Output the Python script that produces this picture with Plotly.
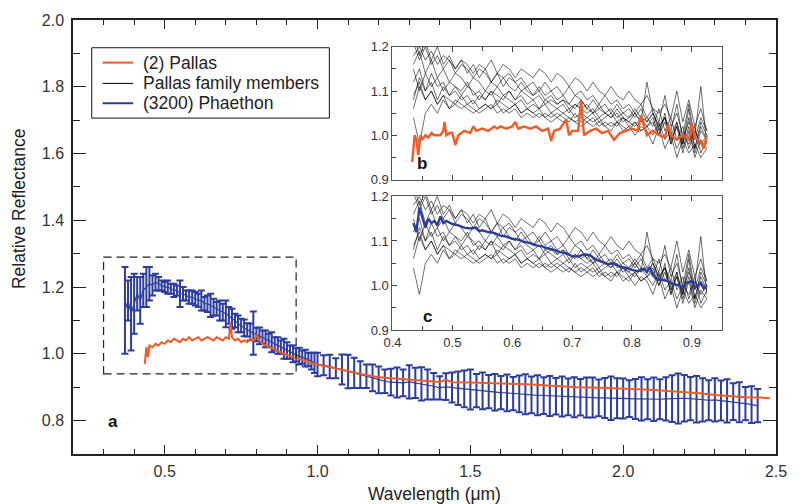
import plotly.graph_objects as go

# ---------------- data ----------------
# (3200) Phaethon, main panel (wavelength um, reflectance, 1-sigma error)
PH_WL = [0.37, 0.38, 0.39, 0.40, 0.41, 0.42, 0.43, 0.44, 0.45, 0.46,
         0.47, 0.48, 0.49, 0.50, 0.51, 0.52, 0.53, 0.54, 0.55, 0.56,
         0.57, 0.58, 0.59, 0.60, 0.61, 0.62, 0.63, 0.64, 0.65, 0.66,
         0.67, 0.68, 0.69, 0.70, 0.71, 0.72, 0.73, 0.74, 0.75, 0.76,
         0.77, 0.78, 0.79, 0.80, 0.81, 0.82, 0.83, 0.84, 0.85, 0.86,
         0.87, 0.88, 0.89, 0.90, 0.91, 0.92, 0.93, 0.94, 0.95, 0.96,
         0.97, 0.98, 0.99,
         1.00, 1.02, 1.04, 1.06, 1.08, 1.10, 1.12, 1.14, 1.16, 1.18,
         1.20, 1.22, 1.24, 1.26, 1.28, 1.30, 1.32, 1.34, 1.36, 1.38,
         1.40, 1.42, 1.44, 1.46, 1.48, 1.50, 1.52, 1.54, 1.56, 1.58,
         1.60, 1.62, 1.64, 1.66, 1.68, 1.70, 1.72, 1.74, 1.76, 1.78,
         1.80, 1.82, 1.84, 1.86, 1.88, 1.90, 1.92, 1.94, 1.96, 1.98,
         2.00, 2.02, 2.04, 2.06, 2.08, 2.10, 2.12, 2.14, 2.16, 2.18,
         2.20, 2.22, 2.24, 2.26, 2.28, 2.30, 2.32, 2.34, 2.36, 2.38,
         2.40, 2.42, 2.44]
PH_REF = [1.13, 1.16, 1.12, 1.15, 1.18, 1.16, 1.19, 1.20, 1.21, 1.205,
          1.215, 1.21, 1.205, 1.20, 1.20, 1.195, 1.19, 1.19, 1.18, 1.18,
          1.175, 1.17, 1.17, 1.165, 1.16, 1.16, 1.15, 1.15, 1.145, 1.14,
          1.135, 1.13, 1.125, 1.12, 1.115, 1.105, 1.10, 1.09, 1.085, 1.078,
          1.072, 1.066, 1.062, 1.058, 1.054, 1.05, 1.045, 1.04, 1.035, 1.03,
          1.025, 1.02, 1.015, 1.01, 1.005, 1.0, 0.997, 0.993, 0.99, 0.987,
          0.983, 0.978, 0.973,
          0.968, 0.966, 0.962, 0.957, 0.953, 0.947, 0.943, 0.938, 0.933, 0.928,
          0.922, 0.918, 0.915, 0.914, 0.913, 0.916, 0.913, 0.910, 0.908, 0.903,
          0.898, 0.902, 0.899, 0.897, 0.895, 0.893, 0.890, 0.889, 0.887, 0.885,
          0.884, 0.883, 0.881, 0.880, 0.879, 0.877, 0.876, 0.875, 0.874, 0.873,
          0.872, 0.871, 0.870, 0.870, 0.869, 0.869, 0.868, 0.868, 0.867, 0.867,
          0.866, 0.866, 0.865, 0.865, 0.864, 0.864, 0.864, 0.865, 0.866, 0.866,
          0.867, 0.866, 0.864, 0.862, 0.861, 0.862, 0.860, 0.859, 0.857, 0.855,
          0.851, 0.848, 0.845]
PH_ERR = [0.13, 0.06, 0.11, 0.09, 0.05, 0.07, 0.05, 0.06, 0.05, 0.03,
          0.025, 0.02, 0.015, 0.015, 0.02, 0.015, 0.02, 0.015, 0.04, 0.02,
          0.015, 0.02, 0.02, 0.02, 0.02, 0.03, 0.02, 0.025, 0.035, 0.025,
          0.02, 0.03, 0.025, 0.04, 0.025, 0.03, 0.02, 0.025, 0.02, 0.025,
          0.02, 0.025, 0.065, 0.02, 0.025, 0.02, 0.025, 0.02, 0.03, 0.02,
          0.025, 0.02, 0.03, 0.025, 0.02, 0.025, 0.02, 0.025, 0.02, 0.025,
          0.02, 0.025, 0.03,
          0.035, 0.03, 0.035, 0.03, 0.045, 0.05, 0.045, 0.04, 0.035, 0.04,
          0.04, 0.035, 0.04, 0.045, 0.04, 0.05, 0.045, 0.05, 0.045, 0.04,
          0.035, 0.04, 0.045, 0.05, 0.055, 0.06, 0.05, 0.055, 0.05, 0.055,
          0.05, 0.055, 0.05, 0.055, 0.06, 0.055, 0.06, 0.055, 0.06, 0.055,
          0.06, 0.055, 0.06, 0.055, 0.06, 0.06, 0.055, 0.06, 0.065, 0.06,
          0.06, 0.055, 0.06, 0.065, 0.06, 0.065, 0.06, 0.065, 0.07, 0.075,
          0.07, 0.065, 0.07, 0.065, 0.06, 0.065, 0.06, 0.065, 0.055, 0.06,
          0.05, 0.055, 0.05]

# (2) Pallas, main panel
PA_WL = [0.435, 0.44, 0.445, 0.45, 0.46, 0.47, 0.48, 0.49, 0.50, 0.51,
         0.52, 0.53, 0.54, 0.55, 0.56, 0.57, 0.58, 0.59, 0.60, 0.61,
         0.62, 0.63, 0.64, 0.65, 0.66, 0.67, 0.68, 0.69, 0.70, 0.71,
         0.715, 0.72, 0.73, 0.74, 0.75, 0.76, 0.77, 0.78, 0.79, 0.80,
         0.81, 0.82, 0.83, 0.84, 0.85, 0.86, 0.87, 0.88, 0.89, 0.90,
         0.92, 0.94, 0.96, 0.98, 1.00, 1.05, 1.10, 1.15, 1.20, 1.25,
         1.30, 1.35, 1.40, 1.42, 1.44, 1.50, 1.55, 1.60, 1.65, 1.70,
         1.75, 1.80, 1.85, 1.90, 1.95, 2.00, 2.05, 2.10, 2.15, 2.20,
         2.25, 2.30, 2.35, 2.40, 2.45, 2.48]
PA_REF = [0.97, 1.02, 0.99, 1.025, 1.02, 1.03, 1.025, 1.035, 1.03, 1.04,
          1.035, 1.045, 1.04, 1.035, 1.045, 1.04, 1.05, 1.04, 1.045, 1.05,
          1.04, 1.045, 1.05, 1.045, 1.04, 1.05, 1.045, 1.04, 1.05, 1.045,
          1.095, 1.05, 1.04, 1.045, 1.035, 1.04, 1.035, 1.045, 1.04, 1.055,
          1.04, 1.03, 1.025, 1.02, 1.018, 1.012, 1.008, 1.004, 1.0, 0.998,
          0.99, 0.985, 0.978, 0.972, 0.968, 0.958, 0.946, 0.938, 0.930, 0.926,
          0.922, 0.918, 0.916, 0.922, 0.915, 0.914, 0.913, 0.911, 0.910, 0.908,
          0.905, 0.902, 0.900, 0.899, 0.898, 0.897, 0.894, 0.892, 0.889, 0.886,
          0.882, 0.877, 0.873, 0.870, 0.869, 0.867]

# inset b: (2) Pallas
PB_WL = [0.433, 0.437, 0.44, 0.443, 0.447, 0.45, 0.455, 0.46, 0.465, 0.47,
         0.475, 0.48, 0.485, 0.487, 0.49, 0.495, 0.50, 0.505, 0.51, 0.52,
         0.53, 0.535, 0.54, 0.55, 0.56, 0.57, 0.575, 0.58, 0.59, 0.60,
         0.605, 0.61, 0.62, 0.63, 0.64, 0.65, 0.66, 0.665, 0.67, 0.68,
         0.69, 0.695, 0.70, 0.71, 0.715, 0.72, 0.73, 0.74, 0.75, 0.76,
         0.77, 0.78, 0.79, 0.80, 0.81, 0.815, 0.825, 0.835, 0.845, 0.855,
         0.86, 0.865, 0.875, 0.885, 0.895, 0.90, 0.905, 0.91, 0.915, 0.92,
         0.925]
PB_REF = [0.94, 1.0, 0.99, 0.955, 1.0, 0.99, 1.0, 0.995, 1.005, 1.0,
          1.0, 1.0, 1.01, 1.03, 1.0, 1.005, 1.005, 0.978, 1.0, 1.01,
          1.005, 1.02, 1.01, 1.015, 1.01, 1.02, 1.015, 1.02, 1.015, 1.02,
          1.03, 1.015, 1.02, 1.015, 1.02, 1.01, 1.015, 0.987, 1.01, 1.015,
          1.035, 1.0, 1.01, 1.01, 1.077, 1.0, 1.01, 1.015, 1.005, 1.01,
          0.99, 1.005, 1.01, 1.015, 1.01, 1.045, 1.0, 1.01, 1.0, 0.995,
          1.024, 1.0, 0.99, 1.0, 0.99, 1.028, 0.995, 0.99, 0.985, 0.97,
          1.0]

# inset c: (3200) Phaethon
PC_WL = [0.435, 0.44, 0.445, 0.45, 0.455, 0.46, 0.465, 0.47, 0.475, 0.48,
         0.485, 0.49, 0.50, 0.51, 0.52, 0.53, 0.54, 0.545, 0.55, 0.56,
         0.57, 0.58, 0.59, 0.60, 0.61, 0.62, 0.63, 0.64, 0.65, 0.66,
         0.67, 0.68, 0.69, 0.70, 0.71, 0.72, 0.73, 0.74, 0.75, 0.76,
         0.77, 0.78, 0.79, 0.80, 0.81, 0.82, 0.825, 0.83, 0.835, 0.84,
         0.85, 0.86, 0.87, 0.88, 0.885, 0.89, 0.90, 0.905, 0.91, 0.915,
         0.92, 0.925]
PC_REF = [1.14, 1.12, 1.175, 1.15, 1.13, 1.15, 1.14, 1.145, 1.135, 1.155,
          1.14, 1.145, 1.138, 1.135, 1.13, 1.128, 1.13, 1.122, 1.124, 1.12,
          1.118, 1.112, 1.11, 1.105, 1.103, 1.098, 1.095, 1.09, 1.088, 1.083,
          1.08, 1.075, 1.072, 1.066, 1.065, 1.07, 1.068, 1.058, 1.053, 1.048,
          1.05, 1.042, 1.04, 1.035, 1.032, 1.038, 1.03, 1.042, 1.025, 1.015,
          1.013, 1.01, 1.003, 1.0, 0.995, 1.005, 1.01, 0.995, 1.0, 1.005,
          0.993, 1.0]

# Pallas family members (insets b and c)
FAM_WL = [0.435, 0.445, 0.455, 0.465, 0.475, 0.485, 0.495, 0.505, 0.515, 0.525,
          0.535, 0.545, 0.555, 0.565, 0.575, 0.585, 0.595, 0.605, 0.615, 0.625,
          0.635, 0.645, 0.655, 0.665, 0.675, 0.685, 0.695, 0.705, 0.715, 0.725,
          0.735, 0.745, 0.755, 0.765, 0.775, 0.785, 0.795, 0.805, 0.815, 0.825,
          0.835, 0.845, 0.855, 0.865, 0.875, 0.885, 0.895, 0.905, 0.915, 0.925]
FAM_1 = [1.18, 1.20, 1.17, 1.19, 1.16, 1.18, 1.17, 1.15, 1.17, 1.16,
         1.14, 1.16, 1.15, 1.17, 1.14, 1.16, 1.15, 1.13, 1.15, 1.14,
         1.13, 1.15, 1.14, 1.12, 1.14, 1.13, 1.11, 1.13, 1.12, 1.10,
         1.12, 1.10, 1.09, 1.11, 1.09, 1.08, 1.10, 1.08, 1.07, 1.09,
         1.06, 1.05, 1.07, 1.04, 1.10, 1.03, 1.08, 1.02, 1.06, 1.01]
FAM_2 = [1.21, 1.17, 1.20, 1.16, 1.18, 1.15, 1.17, 1.14, 1.16, 1.15,
         1.13, 1.15, 1.14, 1.12, 1.14, 1.13, 1.14, 1.12, 1.13, 1.11,
         1.12, 1.10, 1.12, 1.10, 1.11, 1.09, 1.11, 1.09, 1.10, 1.08,
         1.09, 1.07, 1.09, 1.07, 1.08, 1.06, 1.07, 1.05, 1.07, 1.04,
         1.06, 1.03, 1.09, 1.02, 1.05, 1.00, 1.07, 0.99, 1.04, 1.01]
FAM_3 = [1.16, 1.19, 1.14, 1.17, 1.13, 1.15, 1.12, 1.14, 1.13, 1.11,
         1.13, 1.12, 1.10, 1.12, 1.11, 1.13, 1.11, 1.10, 1.12, 1.10,
         1.09, 1.11, 1.09, 1.10, 1.08, 1.09, 1.07, 1.09, 1.08, 1.06,
         1.08, 1.06, 1.07, 1.05, 1.07, 1.05, 1.06, 1.04, 1.06, 1.03,
         1.05, 1.02, 1.04, 0.98, 1.03, 0.97, 1.02, 0.96, 1.01, 0.99]
FAM_4 = [1.12, 1.15, 1.10, 1.14, 1.11, 1.12, 1.09, 1.11, 1.10, 1.12,
         1.09, 1.10, 1.08, 1.10, 1.09, 1.08, 1.10, 1.08, 1.09, 1.07,
         1.08, 1.06, 1.08, 1.07, 1.06, 1.07, 1.05, 1.07, 1.06, 1.05,
         1.06, 1.04, 1.05, 1.04, 1.05, 1.03, 1.04, 1.05, 1.03, 1.04,
         1.02, 1.06, 1.01, 1.04, 0.99, 1.02, 0.97, 1.01, 0.98, 1.00]
FAM_5 = [1.08, 1.13, 1.10, 1.12, 1.08, 1.11, 1.09, 1.10, 1.08, 1.09,
         1.07, 1.09, 1.08, 1.10, 1.07, 1.09, 1.08, 1.07, 1.08, 1.06,
         1.07, 1.06, 1.07, 1.05, 1.06, 1.05, 1.06, 1.04, 1.05, 1.04,
         1.05, 1.03, 1.04, 1.05, 1.03, 1.04, 1.03, 1.02, 1.04, 1.02,
         1.03, 1.00, 1.05, 0.98, 1.02, 0.96, 1.01, 0.95, 0.99, 0.97]
FAM_6 = [1.06, 1.11, 1.08, 1.10, 1.07, 1.09, 1.06, 1.08, 1.07, 1.06,
         1.05, 1.06, 1.07, 1.06, 1.08, 1.07, 1.06, 1.07, 1.05, 1.06,
         1.05, 1.06, 1.04, 1.05, 1.04, 1.05, 1.04, 1.03, 1.04, 1.03,
         1.04, 1.02, 1.03, 1.02, 1.03, 1.02, 1.01, 1.03, 1.01, 1.02,
         1.00, 1.03, 0.99, 1.01, 0.97, 1.00, 0.98, 1.02, 0.96, 0.99]
FAM_7 = [1.04, 0.98, 1.05, 1.07, 1.05, 1.08, 1.06, 1.07, 1.06, 1.07,
         1.06, 1.05, 1.06, 1.07, 1.05, 1.06, 1.05, 1.06, 1.04, 1.05,
         1.04, 1.05, 1.04, 1.03, 1.04, 1.03, 1.04, 1.03, 1.02, 1.03,
         1.02, 1.03, 1.02, 1.01, 1.03, 1.01, 1.02, 1.00, 1.02, 1.01,
         0.98, 1.02, 0.97, 1.00, 0.95, 0.99, 0.96, 0.98, 0.95, 0.97]
FAM_8 = [1.09, 1.12, 1.08, 1.10, 1.07, 1.09, 1.08, 1.07, 1.09, 1.07,
         1.08, 1.06, 1.07, 1.06, 1.07, 1.05, 1.06, 1.07, 1.05, 1.06,
         1.05, 1.04, 1.05, 1.04, 1.05, 1.04, 1.03, 1.05, 1.03, 1.04,
         1.03, 1.04, 1.02, 1.03, 1.02, 1.04, 1.02, 1.03, 1.01, 1.02,
         1.04, 1.00, 1.03, 0.99, 1.02, 0.98, 1.04, 0.97, 1.03, 1.00]
FAM_9 = [1.23, 1.18, 1.21, 1.17, 1.20, 1.16, 1.18, 1.15, 1.17, 1.14,
         1.16, 1.13, 1.15, 1.12, 1.14, 1.11, 1.13, 1.12, 1.10, 1.11,
         1.09, 1.10, 1.08, 1.09, 1.07, 1.08, 1.07, 1.06, 1.08, 1.06,
         1.05, 1.07, 1.05, 1.04, 1.06, 1.04, 1.03, 1.05, 1.03, 1.12,
         1.05, 1.01, 1.04, 1.00, 1.03, 0.98, 1.06, 0.97, 1.02, 0.99]
FAM_10 = [1.15, 1.10, 1.14, 1.11, 1.13, 1.10, 1.12, 1.11, 1.09, 1.11,
          1.10, 1.08, 1.10, 1.09, 1.11, 1.09, 1.10, 1.08, 1.10, 1.09,
          1.08, 1.09, 1.07, 1.08, 1.07, 1.08, 1.06, 1.07, 1.06, 1.07,
          1.05, 1.06, 1.05, 1.06, 1.04, 1.05, 1.04, 1.06, 1.04, 1.03,
          1.05, 1.02, 1.04, 1.01, 1.07, 0.99, 1.03, 1.00, 1.11, 0.98]
FAMILY = [FAM_1, FAM_2, FAM_3, FAM_4, FAM_5, FAM_6, FAM_7, FAM_8, FAM_9, FAM_10]

LEGEND_LABELS = ["(2) Pallas", "Pallas family members", "(3200) Phaethon"]

# ---------------- style ----------------
FONT = "Liberation Sans, Arial, Helvetica, sans-serif"
BLUE = "#2d3d9c"
ORANGE = "#f25a26"
AX = "#222222"
TXT = "#333333"

W, H = 799, 504
L, R, T, B = 73, 13, 16, 50
PW, PH = W - L - R, H - T - B


def px_x(p):
    return (p - L) / PW


def px_y(p):
    return (H - B - p) / PH


fig = go.Figure()

# main panel
fig.add_trace(go.Scatter(
    x=PH_WL, y=PH_REF, mode="lines", line=dict(color=BLUE, width=1.2),
    error_y=dict(type="data", array=PH_ERR, color=BLUE, thickness=2, width=3.5),
    showlegend=False, hoverinfo="skip"))
fig.add_trace(go.Scatter(
    x=PA_WL, y=PA_REF, mode="lines", line=dict(color=ORANGE, width=2),
    showlegend=False, hoverinfo="skip"))

# insets: family members
for line in FAMILY:
    for xa, ya in (("x2", "y2"), ("x3", "y3")):
        fig.add_trace(go.Scatter(
            x=FAM_WL, y=line, xaxis=xa, yaxis=ya, mode="lines",
            line=dict(color="rgba(0,0,0,0.72)", width=0.8),
            showlegend=False, hoverinfo="skip"))

fig.add_trace(go.Scatter(x=PB_WL, y=PB_REF, xaxis="x2", yaxis="y2", mode="lines",
                         line=dict(color=ORANGE, width=2.4), showlegend=False))
fig.add_trace(go.Scatter(x=PC_WL, y=PC_REF, xaxis="x3", yaxis="y3", mode="lines",
                         line=dict(color=BLUE, width=2.4), showlegend=False))

main_common = dict(showline=True, linecolor=AX, linewidth=1.5, mirror="allticks",
                   ticks="inside", tickcolor=AX, tickwidth=1.2, showgrid=False,
                   zeroline=False, tickfont=dict(family=FONT, size=16, color=TXT))
inset_common = dict(showline=True, linecolor="#555555", linewidth=1, mirror="allticks",
                    ticks="inside", tickcolor="#444444", tickwidth=1, ticklen=5,
                    showgrid=False, zeroline=False,
                    tickfont=dict(family=FONT, size=13, color=TXT))

bx = [px_x(397), px_x(731)]

fig.update_layout(
    width=W, height=H,
    margin=dict(l=L, r=R, t=T, b=B),
    paper_bgcolor="white", plot_bgcolor="white",
    showlegend=False,
    xaxis=dict(domain=[0, 1], range=[0.2, 2.5], tick0=0, dtick=0.5, tickformat=".1f",
               ticklen=9, ticklabelstandoff=2,
               minor=dict(ticks="inside", ticklen=5, dtick=0.1, tick0=0,
                          tickcolor=AX, tickwidth=1.2),
               **main_common),
    yaxis=dict(domain=[0, 1], range=[0.7, 2.0], tick0=0, dtick=0.2, tickformat=".1f",
               ticklen=13, ticklabelstandoff=4,
               minor=dict(ticks="inside", ticklen=7, dtick=0.1, tick0=0,
                          tickcolor=AX, tickwidth=1.2),
               **main_common),
    xaxis2=dict(domain=bx, anchor="y2", range=[0.4, 0.95], tick0=0, dtick=0.1,
                showticklabels=False,
                minor=dict(ticks="inside", ticklen=4, dtick=0.05, tick0=0, tickcolor="#444444"),
                **inset_common),
    yaxis2=dict(domain=[px_y(177), px_y(43)], anchor="x2", range=[0.9, 1.2], tick0=0,
                dtick=0.1, tickformat=".1f",
                minor=dict(ticks="inside", ticklen=4, dtick=0.05, tick0=0, tickcolor="#444444"),
                **inset_common),
    xaxis3=dict(domain=bx, anchor="y3", range=[0.4, 0.95], tick0=0, dtick=0.1,
                tickformat=".1f",
                minor=dict(ticks="inside", ticklen=4, dtick=0.05, tick0=0, tickcolor="#444444"),
                **inset_common),
    yaxis3=dict(domain=[px_y(329), px_y(194)], anchor="x3", range=[0.9, 1.2], tick0=0,
                dtick=0.1, tickformat=".1f",
                minor=dict(ticks="inside", ticklen=4, dtick=0.05, tick0=0, tickcolor="#444444"),
                **inset_common),
)

shapes = [
    dict(type="rect", xref="x", yref="y", x0=0.3, x1=0.93, y0=0.94, y1=1.29,
         line=dict(color=AX, width=1.2, dash="8px,5px"), layer="above"),
    # legend frame
    dict(type="rect", xref="paper", yref="paper", x0=px_x(92), x1=px_x(333),
         y0=px_y(115), y1=px_y(44), line=dict(color="#111111", width=1),
         fillcolor="white"),
]
legend_colors = [ORANGE, "#000000", BLUE]
legend_widths = [2, 1, 2]
legend_rows = [59, 80, 100]
annotations = []
for lab, col, wd, ry in zip(LEGEND_LABELS, legend_colors, legend_widths, legend_rows):
    shapes.append(dict(type="line", xref="paper", yref="paper", x0=px_x(103), x1=px_x(134),
                       y0=px_y(ry), y1=px_y(ry), line=dict(color=col, width=wd)))
    annotations.append(dict(xref="paper", yref="paper", x=px_x(142), y=px_y(ry),
                            xanchor="left", yanchor="middle", text=lab, showarrow=False,
                            font=dict(family=FONT, size=17.5, color="#222222")))

annotations += [
    dict(xref="x", yref="y", x=0.33, y=0.797, text="<b>a</b>", showarrow=False,
         font=dict(family=FONT, size=17, color="#111111")),
    dict(xref="x2", yref="y2", x=0.4495, y=0.936, text="<b>b</b>", showarrow=False,
         font=dict(family=FONT, size=17, color="#111111")),
    dict(xref="x3", yref="y3", x=0.458, y=0.931, text="<b>c</b>", showarrow=False,
         font=dict(family=FONT, size=17, color="#111111")),
    dict(xref="paper", yref="paper", x=px_x(19), y=px_y(206), text="Relative Reflectance",
         textangle=-90, showarrow=False, xanchor="center", yanchor="middle",
         font=dict(family=FONT, size=17.5, color="#222222")),
    dict(xref="paper", yref="paper", x=px_x(440), y=px_y(494), text="Wavelength (μm)",
         showarrow=False, xanchor="center", yanchor="middle",
         font=dict(family=FONT, size=17.5, color="#222222")),
]
fig.update_layout(shapes=shapes, annotations=annotations)

fig.write_html("out.html")
